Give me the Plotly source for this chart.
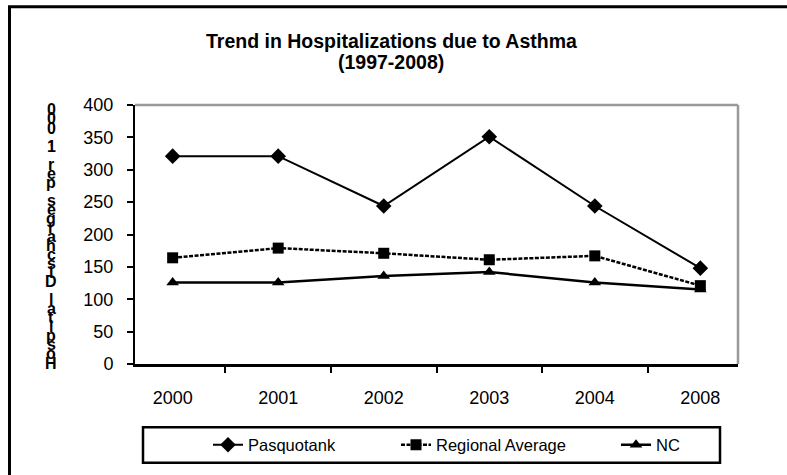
import plotly.graph_objects as go

years = ["2000", "2001", "2002", "2003", "2004", "2008"]
pasquotank = [321, 321, 244, 351, 244, 148]
regional = [164, 179, 171, 161, 167, 121]
nc = [126, 126, 136, 142, 126, 115]
y_ticks = [0, 50, 100, 150, 200, 250, 300, 350, 400]
title_line1 = "Trend in Hospitalizations due to Asthma"
title_line2 = "(1997-2008)"
y_title = "Hospital Discharges per 1,000"

W, H = 787, 475
L, R, T, B = 135, 738, 105, 367
FONT = "Arial, Liberation Sans, sans-serif"


def px(x):
    return (x - L) / (R - L)


def py(y):
    return (B - y) / (B - T)


fig = go.Figure()
fig.add_trace(go.Scatter(
    x=years, y=pasquotank, name="Pasquotank", mode="lines+markers",
    line=dict(color="black", width=2),
    marker=dict(symbol="diamond", size=12, color="black"),
    legend="legend"))
fig.add_trace(go.Scatter(
    x=years, y=regional, name="Regional Average", mode="lines+markers",
    line=dict(color="black", width=2.5, dash="4px,1.5px"),
    marker=dict(symbol="square", size=11, color="black"),
    legend="legend2"))
fig.add_trace(go.Scatter(
    x=years, y=nc, name="NC", mode="lines+markers",
    line=dict(color="black", width=2.5),
    marker=dict(symbol="triangle-up", size=11, color="black"),
    legend="legend3"))

annotations = [
    dict(text=f"<b>{title_line1}</b>", x=px(391), y=py(40), xref="paper", yref="paper",
         showarrow=False, xanchor="center", yanchor="middle",
         font=dict(family=FONT, size=19.5, color="black")),
    dict(text=f"<b>{title_line2}</b>", x=px(391), y=py(62), xref="paper", yref="paper",
         showarrow=False, xanchor="center", yanchor="middle",
         font=dict(family=FONT, size=19.5, color="black")),
]
chars = list(y_title[::-1])
n = len(chars)
for i, ch in enumerate(chars):
    if ch == " ":
        continue
    ypix = 110 + i * (366 - 110) / (n - 1)
    annotations.append(dict(text=f"<b>{ch}</b>", x=px(51), y=py(ypix), xref="paper", yref="paper",
                            showarrow=False, xanchor="center", yanchor="middle",
                            font=dict(family=FONT, size=16, color="black")))

shapes = [
    # outer frame
    dict(type="rect", xref="paper", yref="paper", x0=px(9.5), x1=px(800), y0=py(5.5), y1=py(490),
         line=dict(color="black", width=3), fillcolor="rgba(0,0,0,0)", layer="below"),
    # top and right grey borders of the plot area
    dict(type="line", xref="paper", yref="paper", x0=0, x1=1, y0=1, y1=1,
         line=dict(color="#999999", width=2.5)),
    dict(type="line", xref="paper", yref="paper", x0=1, x1=1, y0=0, y1=1,
         line=dict(color="#999999", width=2.5)),
    # legend box
    dict(type="rect", xref="paper", yref="paper", x0=px(143), x1=px(720), y0=py(431), y1=py(467),
         line=dict(color="black", width=2.5), fillcolor="rgba(0,0,0,0)"),
]

leg_common = dict(yref="paper", xref="paper", yanchor="middle", xanchor="left",
                  bgcolor="rgba(0,0,0,0)", borderwidth=0,
                  font=dict(family=FONT, size=16.5, color="black"))

fig.update_layout(
    width=W, height=H,
    margin=dict(l=L, r=W - R, t=T, b=H - B, pad=0),
    paper_bgcolor="white", plot_bgcolor="white",
    font=dict(family=FONT, color="black"),
    showlegend=True,
    legend=dict(x=px(208), y=py(449), **leg_common),
    legend2=dict(x=px(396), y=py(449), **leg_common),
    legend3=dict(x=px(616), y=py(449), **leg_common),
    annotations=annotations,
    shapes=shapes,
    xaxis=dict(
        type="category", categoryorder="array", categoryarray=years,
        showline=True, linecolor="black", linewidth=2.5,
        ticks="outside", ticklen=6, tickwidth=2, tickcolor="black",
        tickson="boundaries", showgrid=False, zeroline=False,
        tickfont=dict(family=FONT, size=18, color="black"),
        ticklabelstandoff=16,
    ),
    yaxis=dict(
        range=[0, 400], tickvals=y_ticks, ticktext=[str(v) for v in y_ticks],
        showline=True, linecolor="black", linewidth=2,
        ticks="outside", ticklen=6, tickwidth=2, tickcolor="black",
        showgrid=False, zeroline=False,
        tickfont=dict(family=FONT, size=18, color="black"),
        ticklabelstandoff=10,
    ),
)

fig.write_html("out.html", config={"displayModeBar": False},
               post_script="document.body.style.margin='0';")
